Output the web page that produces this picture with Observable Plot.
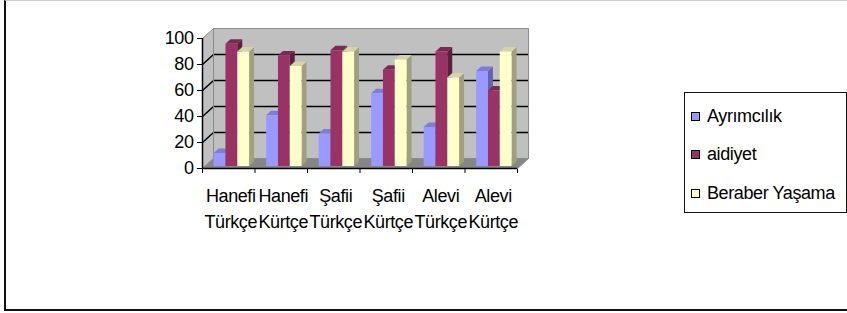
<!DOCTYPE html>
<html><head><meta charset="utf-8">
<script src="https://cdn.jsdelivr.net/npm/d3@7"></script>
<script src="https://cdn.jsdelivr.net/npm/@observablehq/plot@0.6"></script>
<style>
body{margin:0;background:#fff;font-family:"Liberation Sans",Arial,sans-serif;}
#wrap{position:relative;width:847px;height:313px;overflow:hidden;background:#fff;}
#border{position:absolute;left:4px;top:0;width:900px;height:311px;border-left:2px solid #111;border-bottom:2px solid #111;border-top:1px solid #ccc;box-sizing:border-box;}
#chart{position:absolute;left:0;top:0;}
#chart text{letter-spacing:-0.4px;}
#legend{position:absolute;left:684px;top:92px;width:163px;height:121px;border:1.5px solid #111;box-sizing:border-box;background:#fff;}
.item{position:absolute;left:6px;font-size:18px;letter-spacing:-0.4px;line-height:20px;height:20px;white-space:nowrap;color:#000;}
.sw{display:inline-block;width:7px;height:7px;border:1px solid #000;margin-right:7px;vertical-align:1px;}
</style>
</head><body>
<div id="wrap"><div id="border"></div><div id="chart"></div><div id="legend"></div></div>
<script>
const categories = ["Hanefi\nTürkçe","Hanefi\nKürtçe","Şafii\nTürkçe","Şafii\nKürtçe","Alevi\nTürkçe","Alevi\nKürtçe"];
const seriesNames = ["Ayrımcılık","aidiyet","Beraber Yaşama"];
const ayrimcilik = [10,39,25,56,30,73];
const aidiyet = [94,85,89,74,88,58];
const beraber = [88,77,88,82,68,88];
const yTicks = [0,20,40,60,80,100];
const gridValues = [20,40,60,80];
const frontColors = ["#9999ff","#993366","#ffffcc"];
const topColors = ["#7d7dd6","#7a2952","#d4d4a8"];
const sideColors = ["#6464ad","#5c1f3e","#a0a080"];

const series = [ayrimcilik, aidiyet, beraber];
const N = categories.length;
const DX = 0.21, DY = 7.7;
const barStart = 0.16, barW = 0.225, barShift = 0.25, barDepth = 0.45;

const polys = [];
let pid = 0;
function addPoly(pts, fill){ const id = pid++; pts.forEach(([x,y]) => polys.push({id, fill, x, y})); }
addPoly([[DX,DY],[N+DX,DY],[N+DX,100+DY],[DX,100+DY]], "#c0c0c0");
addPoly([[0,0],[DX,DY],[DX,100+DY],[0,100]], "#c0c0c0");
addPoly([[0,0],[N,0],[N+DX,DY],[DX,DY]], "#868686");

const outlines = [];
let oid = 0;
function addOutline(pts){ const id = oid++; [...pts, pts[0]].forEach(([x,y]) => outlines.push({id,x,y})); }
addOutline([[DX,DY],[N+DX,DY],[N+DX,100+DY],[DX,100+DY]]);
addOutline([[0,0],[DX,DY],[DX,100+DY],[0,100]]);
addOutline([[0,0],[N,0],[N+DX,DY],[DX,DY]]);

const barPolys = [];
let bid = 0;
function addBar(pts, fill){ const id = bid++; pts.forEach(([x,y]) => barPolys.push({id, fill, x, y})); }
for (let i = 0; i < N; i++) {
  series.forEach((vals, s) => {
    const v = vals[i];
    const x0 = i + barStart + s*barW + barShift*DX, x1 = x0 + barW;
    const y0 = barShift*DY, yv = v + barShift*DY;
    const ex = barDepth*DX, ey = barDepth*DY;
    addBar([[x1,y0],[x1+ex,y0+ey],[x1+ex,yv+ey],[x1,yv]], sideColors[s]);
    addBar([[x0,yv],[x1,yv],[x1+ex,yv+ey],[x0+ex,yv+ey]], topColors[s]);
    addBar([[x0,y0],[x1,y0],[x1,yv],[x0,yv]], frontColors[s]);
  });
}

const chart = Plot.plot({
  width: 847, height: 313,
  marginLeft: 202, marginRight: 330, marginTop: 38, marginBottom: 145,
  style: {fontFamily: "'Liberation Sans', Arial, sans-serif", fontSize: "18px", color: "#000", background: "transparent", overflow: "visible"},
  x: {domain: [0, N], ticks: d3.range(0, N+1), tickFormat: () => "", tickSize: 5, label: null},
  y: {domain: [0, 100], ticks: yTicks, tickSize: 5, tickPadding: 4, label: null},
  color: {type: "identity"},
  marks: [
    Plot.line(polys, {x: "x", y: "y", z: "id", fill: "fill", stroke: "none", curve: "linear"}),
    Plot.link(gridValues, {x1: DX, x2: N+DX, y1: d => d+DY, y2: d => d+DY, stroke: "#000", strokeWidth: 1.5}),
    Plot.link(gridValues, {x1: 0, x2: DX, y1: d => d, y2: d => d+DY, stroke: "#000", strokeWidth: 1.5}),
    Plot.line(outlines, {x: "x", y: "y", z: "id", stroke: "#8c8c8c", strokeWidth: 1, fill: "none"}),
    Plot.line(barPolys, {x: "x", y: "y", z: "id", fill: "fill", stroke: "none", curve: "linear"}),
    Plot.ruleY([0], {stroke: "#000", strokeWidth: 1.5}),
    Plot.ruleX([0], {stroke: "#000", strokeWidth: 1.5}),
    Plot.text(categories, {x: (d, i) => i + 0.5, frameAnchor: "bottom", lineAnchor: "top", dy: 15, dx: 2, lineHeight: 1.45, fontSize: 18, fill: "#000"})
  ]
});
document.getElementById("chart").appendChild(chart);

const legend = document.getElementById("legend");
const itemTops = [13, 51, 90];
seriesNames.forEach((name, s) => {
  const div = document.createElement("div");
  div.className = "item";
  div.style.top = itemTops[s] + "px";
  const sw = document.createElement("span");
  sw.className = "sw";
  sw.style.background = frontColors[s];
  div.appendChild(sw);
  div.appendChild(document.createTextNode(name));
  legend.appendChild(div);
});
</script>
</body></html>
